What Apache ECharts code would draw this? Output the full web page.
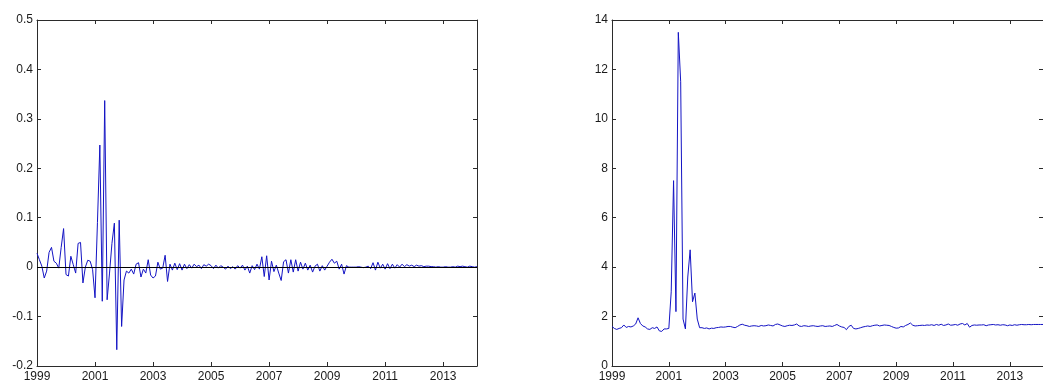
<!DOCTYPE html>
<html>
<head>
<meta charset="utf-8">
<script src="https://cdn.jsdelivr.net/npm/echarts@6/dist/echarts.min.js"></script>
<style>
  html, body { margin: 0; padding: 0; background: #fff; }
  #chart { width: 1043px; height: 384px; }
</style>
</head>
<body>
<div id="chart"></div>
<script>
// Monthly observations, January 1999 through March 2014.
const startYear = 1999;
const monthCount = 183;
const months = [];
for (let i = 0; i < monthCount; i++) {
  const y = startYear + Math.floor(i / 12);
  const m = (i % 12) + 1;
  months.push(y + '-' + (m < 10 ? '0' + m : m));
}

// Left panel: residual series, one value per month.
const residuals = [
  // 1999
  0.028, 0.015, 0.002, -0.022, -0.008, 0.030, 0.040, 0.012, 0.008, -0.002, 0.040, 0.078,
  // 2000
  -0.015, -0.018, 0.022, 0.005, -0.012, 0.048, 0.050, -0.032, 0.000, 0.014, 0.012, -0.005,
  // 2001
  -0.062, 0.090, 0.247, -0.069, 0.337, -0.066, -0.012, 0.048, 0.089, -0.167, 0.095, -0.120,
  // 2002
  -0.026, -0.008, -0.012, -0.004, -0.014, 0.006, 0.009, -0.020, -0.004, -0.012, 0.015, -0.016,
  // 2003
  -0.022, -0.018, 0.010, -0.004, -0.002, 0.024, -0.029, 0.006, -0.006, 0.008, -0.005, 0.007,
  // 2004
  -0.006, 0.006, -0.003, 0.005, -0.002, 0.006, 0.001, 0.004, -0.003, 0.005, 0.002, 0.006,
  // 2005
  0.003, -0.003, 0.004, -0.002, 0.003, 0.000, -0.004, 0.002, -0.003, 0.001, -0.004, 0.003,
  // 2006
  -0.002, 0.004, -0.006, 0.002, -0.012, 0.003, -0.005, 0.006, -0.004, 0.021, -0.019, 0.023,
  // 2007
  -0.026, 0.012, -0.009, 0.004, -0.012, -0.027, 0.011, 0.015, -0.012, 0.015, -0.010, 0.015,
  // 2008
  -0.008, 0.010, -0.004, 0.008, -0.006, 0.004, -0.010, 0.002, 0.006, -0.008, 0.003, -0.006,
  // 2009
  0.002, 0.010, 0.016, 0.008, 0.012, -0.004, 0.006, -0.014, 0.003, 0.000, 0.000, 0.000,
  // 2010
  0.000, 0.001, 0.000, -0.001, 0.000, 0.002, -0.003, 0.009, -0.006, 0.010, -0.002, 0.006,
  // 2011
  -0.004, 0.007, -0.003, 0.006, -0.002, 0.005, 0.000, 0.006, 0.001, 0.005, 0.002, 0.004,
  // 2012
  0.001, 0.004, 0.002, 0.003, 0.001, 0.002, 0.002, 0.001, 0.001, 0.000, 0.001, 0.000,
  // 2013
  0.000, 0.001, 0.000, 0.000, 0.001, 0.000, 0.002, 0.001, 0.002, 0.001, 0.000, 0.002,
  // 2014
  0.001, 0.000, 0.001
];

// Right panel: conditional variance series, one value per month.
const variance = [
  // 1999
  1.60, 1.52, 1.48, 1.52, 1.55, 1.66, 1.56, 1.60, 1.58, 1.62, 1.70, 1.95,
  // 2000
  1.72, 1.62, 1.58, 1.50, 1.48, 1.55, 1.52, 1.58, 1.42, 1.40, 1.50, 1.50,
  // 2001
  1.52, 3.00, 7.50, 2.20, 13.50, 11.50, 1.90, 1.50, 3.60, 4.70, 2.60, 2.95,
  // 2002
  1.90, 1.55, 1.55, 1.52, 1.54, 1.50, 1.53, 1.52, 1.55, 1.56, 1.58, 1.57,
  // 2003
  1.58, 1.60, 1.60, 1.57, 1.55, 1.60, 1.66, 1.69, 1.65, 1.63, 1.60, 1.62,
  // 2004
  1.63, 1.62, 1.60, 1.64, 1.62, 1.63, 1.66, 1.64, 1.62, 1.68, 1.70, 1.66,
  // 2005
  1.62, 1.60, 1.63, 1.65, 1.64, 1.66, 1.70, 1.62, 1.60, 1.63, 1.62, 1.60,
  // 2006
  1.62, 1.63, 1.61, 1.60, 1.62, 1.63, 1.60, 1.61, 1.62, 1.60, 1.64, 1.68,
  // 2007
  1.62, 1.58, 1.56, 1.47, 1.60, 1.65, 1.52, 1.50, 1.52, 1.55, 1.58, 1.60,
  // 2008
  1.62, 1.60, 1.63, 1.65, 1.66, 1.62, 1.64, 1.66, 1.65, 1.64, 1.60, 1.56,
  // 2009
  1.53, 1.54, 1.60, 1.58, 1.64, 1.68, 1.74, 1.65, 1.62, 1.63, 1.64, 1.65,
  // 2010
  1.64, 1.66, 1.65, 1.67, 1.64, 1.68, 1.65, 1.69, 1.64, 1.66, 1.70, 1.65,
  // 2011
  1.66, 1.68, 1.65, 1.70, 1.72, 1.66, 1.72, 1.57, 1.64, 1.66, 1.65, 1.66,
  // 2012
  1.66, 1.67, 1.63, 1.66, 1.67, 1.68, 1.66, 1.67, 1.65, 1.67, 1.66, 1.63,
  // 2013
  1.66, 1.64, 1.67, 1.65, 1.67, 1.68, 1.67, 1.67, 1.68, 1.67, 1.68, 1.68,
  // 2014
  1.68, 1.68, 1.68
];

// Axis ranges and tick spacing.
const leftRange = { min: -0.2, max: 0.5, interval: 0.1 };
const rightRange = { min: 0, max: 14, interval: 2 };
const yearTickEvery = 24; // a labelled tick every two years

const frameColor = '#2b2b2b';
const textColor = '#1a1a1a';
const lineColor = '#1414c4';
const fontFamily = "'Liberation Sans', Arial, sans-serif";

const isYearTick = (index) => index % yearTickEvery === 0;

function bottomAxis(gridIndex) {
  return {
    type: 'category', gridIndex, data: months, boundaryGap: false, position: 'bottom',
    axisLine: { show: true, onZero: false, lineStyle: { color: frameColor, width: 1 } },
    axisTick: { show: true, inside: true, length: 4, interval: isYearTick,
                lineStyle: { color: frameColor } },
    axisLabel: { show: true, interval: isYearTick, margin: 5, color: textColor,
                 fontFamily, fontSize: 12,
                 formatter: (v) => v.slice(0, 4) },
    splitLine: { show: false }
  };
}
function topAxis(gridIndex) {
  return {
    type: 'category', gridIndex, data: months, boundaryGap: false, position: 'top',
    axisLine: { show: true, onZero: false, lineStyle: { color: frameColor, width: 1 } },
    axisTick: { show: true, inside: true, length: 4, interval: isYearTick,
                lineStyle: { color: frameColor } },
    axisLabel: { show: false },
    splitLine: { show: false }
  };
}
function leftAxis(gridIndex, range) {
  return {
    type: 'value', gridIndex, position: 'left',
    min: range.min, max: range.max, interval: range.interval,
    axisLine: { show: true, onZero: false, lineStyle: { color: frameColor, width: 1 } },
    axisTick: { show: true, inside: true, length: 4, lineStyle: { color: frameColor } },
    axisLabel: { show: true, margin: 4, color: textColor, fontFamily, fontSize: 12 },
    splitLine: { show: false }
  };
}
function rightAxis(gridIndex, range) {
  return {
    type: 'value', gridIndex, position: 'right',
    min: range.min, max: range.max, interval: range.interval,
    axisLine: { show: true, onZero: false, lineStyle: { color: frameColor, width: 1 } },
    axisTick: { show: true, inside: true, length: 4, lineStyle: { color: frameColor } },
    axisLabel: { show: false },
    splitLine: { show: false }
  };
}

const chart = echarts.init(document.getElementById('chart'), null, { renderer: 'canvas' });
chart.setOption({
  animation: false,
  backgroundColor: '#ffffff',
  grid: [
    { left: 37, top: 20, width: 440, height: 346 },
    { left: 612, top: 20, width: 440, height: 346 }
  ],
  xAxis: [bottomAxis(0), topAxis(0), bottomAxis(1), topAxis(1)],
  yAxis: [leftAxis(0, leftRange), rightAxis(0, leftRange),
          leftAxis(1, rightRange), rightAxis(1, rightRange)],
  series: [
    {
      type: 'line', xAxisIndex: 0, yAxisIndex: 0, data: residuals,
      showSymbol: false, symbol: 'none',
      lineStyle: { color: lineColor, width: 1 },
      markLine: {
        silent: true, symbol: ['none', 'none'], label: { show: false },
        lineStyle: { color: '#000000', width: 1, type: 'solid' },
        data: [{ yAxis: 0 }]
      }
    },
    {
      type: 'line', xAxisIndex: 2, yAxisIndex: 2, data: variance,
      showSymbol: false, symbol: 'none',
      lineStyle: { color: lineColor, width: 1 }
    }
  ]
});
</script>
</body>
</html>
